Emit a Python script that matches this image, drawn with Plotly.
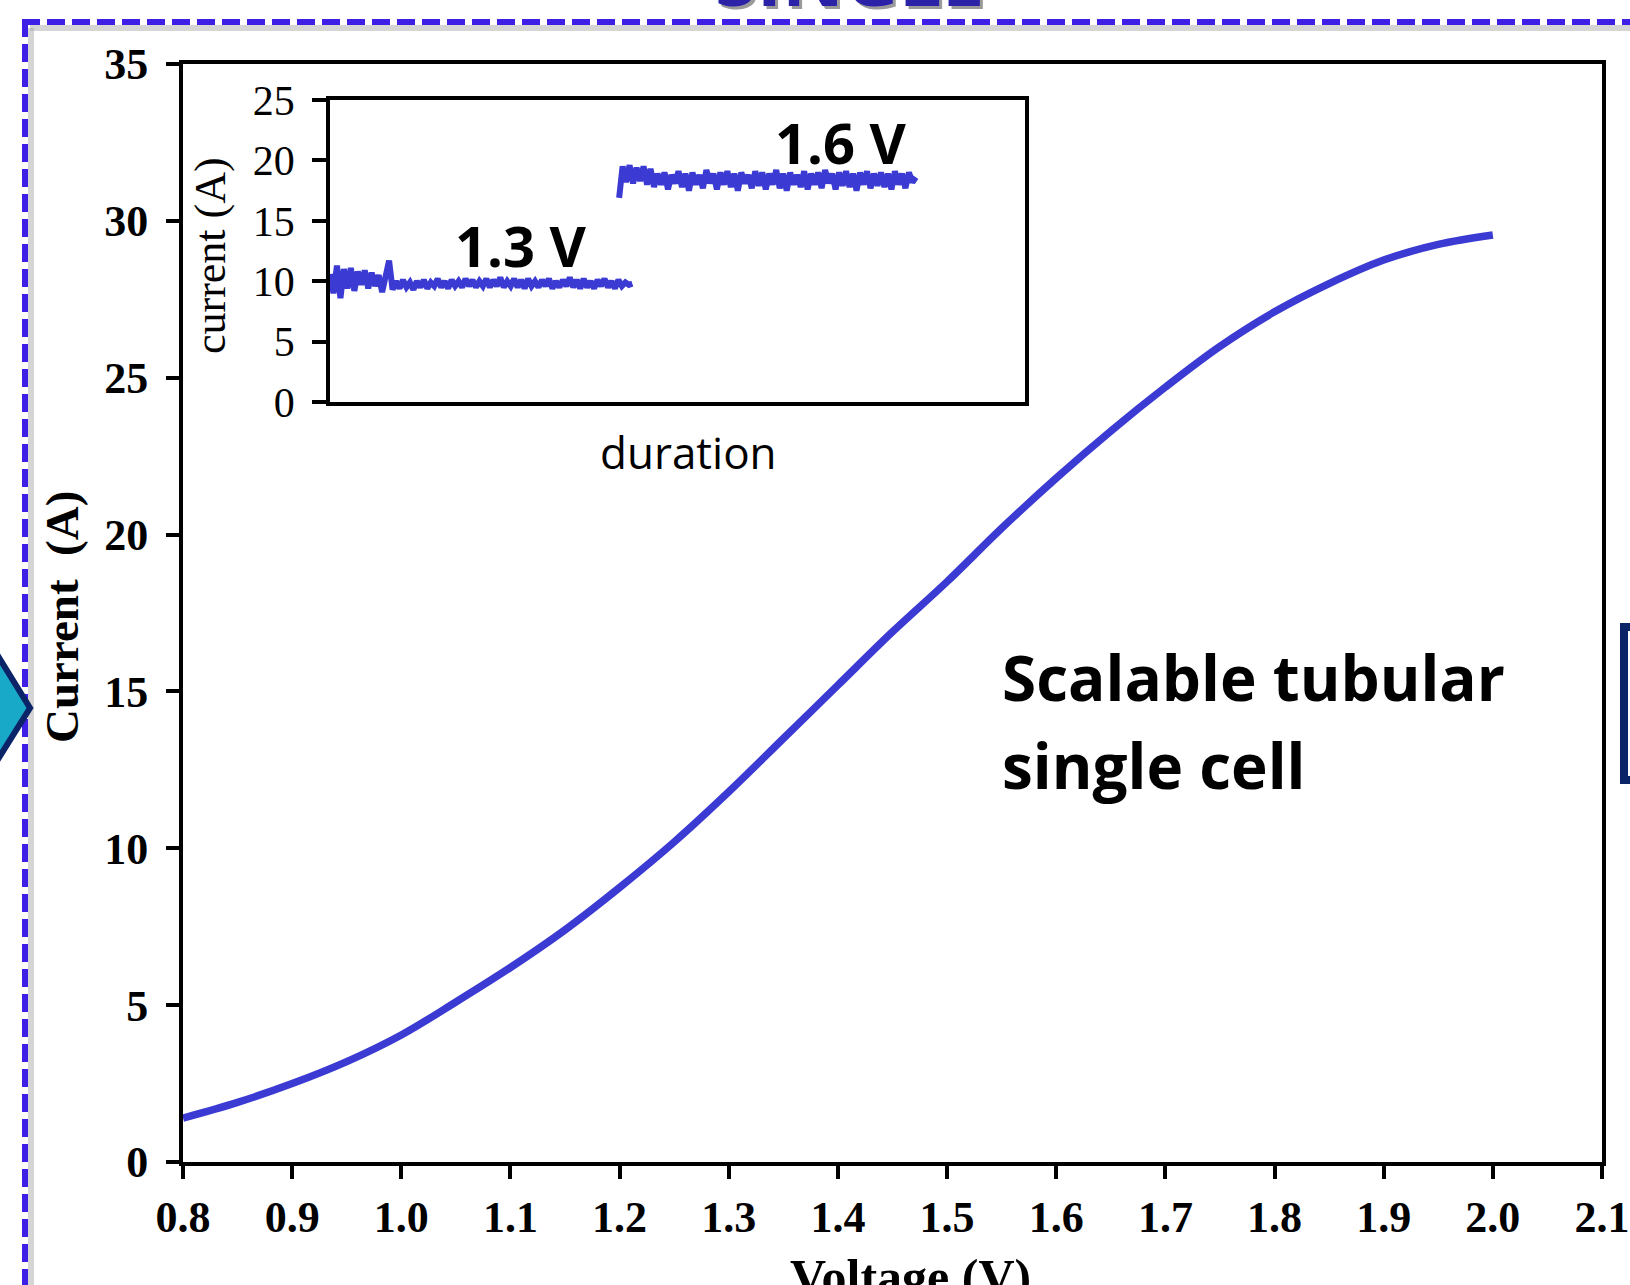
import plotly.graph_objects as go
import numpy as np

W, H = 1630, 1285
BLUE = "#3b3bd4"

# ---------------- data ----------------
voltage = [0.80, 0.85, 0.90, 0.95, 1.00, 1.05, 1.10, 1.15, 1.20, 1.25, 1.30, 1.35,
           1.40, 1.45, 1.50, 1.55, 1.60, 1.65, 1.70, 1.75, 1.80, 1.85, 1.90, 1.95, 2.00]
current = [1.4, 1.9, 2.5, 3.2, 4.05, 5.1, 6.2, 7.4, 8.75, 10.2, 11.8, 13.5,
           15.2, 16.9, 18.5, 20.2, 21.8, 23.3, 24.7, 26.0, 27.1, 28.0, 28.75, 29.25, 29.55]

x_ticks = [0.8, 0.9, 1.0, 1.1, 1.2, 1.3, 1.4, 1.5, 1.6, 1.7, 1.8, 1.9, 2.0, 2.1]
y_ticks = [0, 5, 10, 15, 20, 25, 30, 35]
inset_y_ticks = [0, 5, 10, 15, 20, 25]

# inset: chronoamperometry at 1.3 V and 1.6 V (duration axis in arbitrary units 0-100)
span_13 = (0.0, 43.5)
current_13 = [10.6, 9.0, 11.3, 8.6, 11.0, 9.4, 11.1, 9.2, 10.8, 9.7, 10.9, 9.4, 10.7, 9.6, 10.5,
              9.1, 10.4, 11.7, 9.3, 10.0, 9.4, 10.1, 9.5, 9.9, 9.3, 10.0, 9.5, 10.1, 9.4, 9.9,
              9.6, 10.2, 9.5, 10.0, 9.4, 10.1, 9.6, 10.0, 9.5, 10.2, 9.6, 10.1, 9.5, 10.0, 9.6,
              10.2, 9.5, 10.1, 9.6, 10.3, 9.5, 10.0, 9.6, 10.2, 9.5, 10.1, 9.4, 10.2, 9.6, 10.0,
              9.5, 10.1, 9.6, 10.2, 9.4, 10.0, 9.5, 10.1, 9.6, 10.3, 9.5, 10.1, 9.4, 10.2, 9.5,
              10.0, 9.4, 10.1, 9.6, 10.2, 9.5, 10.0, 9.4, 10.1, 9.6, 9.9, 9.7, 9.8]
span_16 = (41.6, 84.3)
current_16 = [16.9, 19.5, 18.2, 19.6, 18.1, 19.4, 18.3, 19.5, 18.0, 19.3, 17.8, 18.9, 18.0, 19.0,
              17.6, 18.8, 18.1, 19.1, 17.8, 18.9, 17.5, 19.0, 18.0, 18.8, 17.7, 19.2, 18.1, 18.9,
              17.6, 19.0, 18.0, 19.1, 17.8, 18.9, 17.5, 19.0, 18.1, 18.8, 17.7, 19.1, 17.9, 19.0,
              17.6, 18.9, 18.0, 19.2, 17.7, 18.9, 17.5, 19.0, 18.0, 18.8, 17.8, 19.1, 17.6, 18.9,
              18.0, 19.0, 17.7, 19.2, 18.1, 18.9, 17.6, 19.0, 17.9, 19.1, 17.8, 18.9, 17.5, 19.0,
              18.0, 19.1, 17.7, 18.9, 17.9, 19.0, 17.8, 18.9, 17.6, 19.1, 18.0, 18.9, 17.7, 19.0,
              18.2, 18.6]
t_13 = np.linspace(span_13[0], span_13[1], len(current_13))
t_16 = np.linspace(span_16[0], span_16[1], len(current_16))


def fx(px):
    return px / W


def fy(py):
    return 1 - py / H


fig = go.Figure()
fig.add_trace(go.Scatter(x=voltage, y=current, mode="lines", xaxis="x", yaxis="y",
                         line=dict(color=BLUE, width=7.5, shape="spline", smoothing=1.0),
                         showlegend=False, hoverinfo="skip"))
fig.add_trace(go.Scatter(x=t_13, y=current_13, mode="lines", xaxis="x2", yaxis="y2",
                         line=dict(color=BLUE, width=6), showlegend=False, hoverinfo="skip"))
fig.add_trace(go.Scatter(x=t_16, y=current_16, mode="lines", xaxis="x2", yaxis="y2",
                         line=dict(color=BLUE, width=6), showlegend=False, hoverinfo="skip"))

serif_bold = dict(family="Liberation Serif, Times New Roman, serif", size=44, color="black", weight="bold")
serif_reg = dict(family="Liberation Serif, Times New Roman, serif", size=42, color="black")

fig.update_layout(
    template="none",
    width=W, height=H,
    margin=dict(l=0, r=0, t=0, b=0),
    paper_bgcolor="white", plot_bgcolor="white",
    showlegend=False,
    xaxis=dict(domain=[fx(183), fx(1602)], range=[0.8, 2.1], tickvals=x_ticks,
               ticktext=[f"{v:.1f}" for v in x_ticks], showline=True, linecolor="black",
               linewidth=4, mirror=True, ticks="outside", ticklen=13, tickwidth=4,
               tickcolor="black", tickfont=serif_bold, showgrid=False, zeroline=False,
               automargin=False, ticklabelstandoff=0, anchor="y"),
    yaxis=dict(domain=[fy(1162), fy(64)], range=[0, 35], tickvals=y_ticks,
               showline=True, linecolor="black", linewidth=4, mirror=True,
               ticks="outside", ticklen=13, tickwidth=4, tickcolor="black",
               tickfont=serif_bold, showgrid=False, zeroline=False, automargin=False,
               ticklabelstandoff=9, anchor="x"),
    xaxis2=dict(domain=[fx(330), fx(1025)], range=[0, 100], showline=True,
                linecolor="black", linewidth=3.5, mirror=True, ticks="",
                showticklabels=False, showgrid=False, zeroline=False, automargin=False,
                anchor="y2"),
    yaxis2=dict(domain=[fy(402), fy(100)], range=[0, 25], tickvals=inset_y_ticks,
                showline=True, linecolor="black", linewidth=3.5, mirror=True,
                ticks="outside", ticklen=14, tickwidth=3.5, tickcolor="black",
                tickfont=serif_reg, showgrid=False, zeroline=False, automargin=False,
                ticklabelstandoff=9, anchor="x2"),
)

ann = []
# axis titles
ann.append(dict(text="Current  (A)", x=fx(62), y=fy(617), textangle=-90,
                font=dict(family="Liberation Serif, serif", size=47, color="black", weight="bold")))
ann.append(dict(text="Voltage (V)", x=fx(910), y=fy(1247), yanchor="top",
                font=dict(family="Liberation Serif, serif", size=50, color="black", weight="bold")))
ann.append(dict(text="current (A)", x=fx(211), y=fy(256), textangle=-90,
                font=dict(family="Liberation Serif, serif", size=44, color="black")))
ann.append(dict(text="duration", x=fx(688), y=fy(452),
                font=dict(family="Open Sans, sans-serif", size=44, color="black")))
# labels
bold_sans = "Open Sans, sans-serif"
ann.append(dict(text="1.3 V", x=fx(521), y=fy(245),
                font=dict(family=bold_sans, size=56, color="black", weight="bold")))
ann.append(dict(text="1.6 V", x=fx(841), y=fy(142),
                font=dict(family=bold_sans, size=56, color="black", weight="bold")))
ann.append(dict(text="Scalable tubular", x=fx(1000), y=fy(677), xanchor="left",
                font=dict(family=bold_sans, size=62, color="black", weight="bold")))
ann.append(dict(text="single cell", x=fx(1000), y=fy(765), xanchor="left",
                font=dict(family=bold_sans, size=62, color="black", weight="bold")))
# cut-off panel title (only the bottom edge shows at the top of the picture)
ann.append(dict(text="SINGLE", x=fx(852), y=fy(33), yanchor="bottom",
                font=dict(family=bold_sans, size=76, color="#9a9a9a", weight="bold")))
ann.append(dict(text="SINGLE", x=fx(849), y=fy(30), yanchor="bottom",
                font=dict(family=bold_sans, size=76, color="#2b22a8", weight="bold")))
for a in ann:
    a.setdefault("xref", "paper")
    a.setdefault("yref", "paper")
    a.setdefault("showarrow", False)
    a.setdefault("xanchor", "center")
    a.setdefault("yanchor", "middle")
fig.update_layout(annotations=ann)

shapes = []
# thin white strip so the title only peeks above the dashed border
shapes.append(dict(type="rect", x0=fx(600), x1=fx(1100), y0=fy(11), y1=fy(19),
                   fillcolor="white", line=dict(width=0), layer="above"))
# dashed panel border with soft shadow
shapes.append(dict(type="line", x0=fx(30), x1=fx(1640), y0=fy(28), y1=fy(28),
                   line=dict(color="rgba(150,150,150,0.4)", width=6)))
shapes.append(dict(type="line", x0=fx(31), x1=fx(31), y0=fy(28), y1=fy(1300),
                   line=dict(color="rgba(150,150,150,0.4)", width=6)))
shapes.append(dict(type="line", x0=fx(22), x1=fx(1640), y0=fy(22), y1=fy(22),
                   line=dict(color="#3d1fe6", width=6, dash="18px,7px")))
shapes.append(dict(type="line", x0=fx(25), x1=fx(25), y0=fy(19), y1=fy(1300),
                   line=dict(color="#3d1fe6", width=6, dash="18px,7px")))
# arrow on the left
path = "M {} {} L {} {} L {} {} Z".format(fx(-10), fy(643), fx(30), fy(708), fx(-10), fy(772))
shapes.append(dict(type="path", path=path, fillcolor="#18a8c8",
                   line=dict(color="#0b2468", width=6)))
# box on the right
shapes.append(dict(type="rect", x0=fx(1624), x1=fx(1660), y0=fy(627), y1=fy(780),
                   fillcolor="white", line=dict(color="#0b2468", width=8)))
for s in shapes:
    s["xref"] = "paper"
    s["yref"] = "paper"
fig.update_layout(shapes=shapes)

fig.write_html("out.html")
